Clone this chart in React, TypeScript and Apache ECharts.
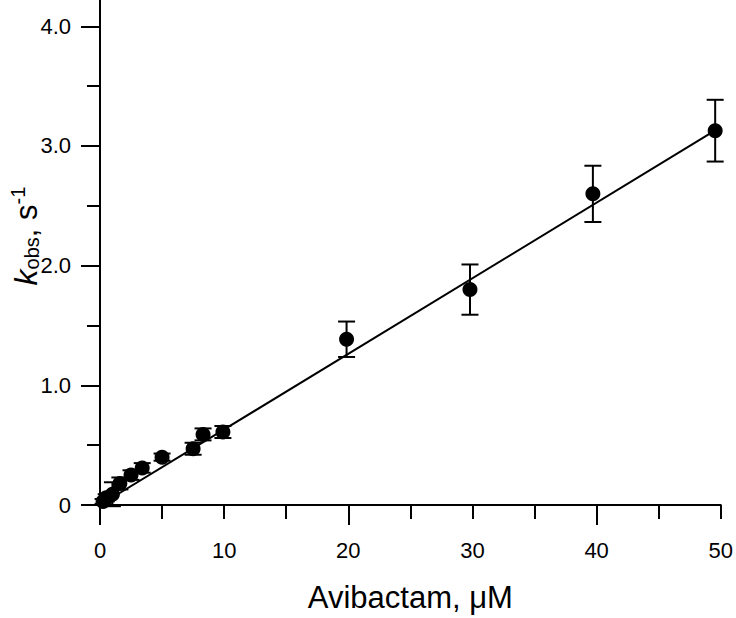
import React, { useEffect, useRef } from "react";
import * as echarts from "echarts";

// Avibactam concentration (µM)
const conc = [0.25, 0.5, 1.0, 1.6, 2.5, 3.4, 5.0, 7.5, 8.3, 9.9, 19.86, 29.8, 39.7, 49.55];
// observed rate constant k_obs (s^-1)
const kobs = [0.03, 0.06, 0.09, 0.18, 0.25, 0.31, 0.40, 0.47, 0.59, 0.61, 1.385, 1.80, 2.60, 3.128];
// standard errors (s^-1)
const kerr = [0.02, 0.03, 0.10, 0.05, 0.04, 0.04, 0.03, 0.05, 0.05, 0.05, 0.148, 0.21, 0.235, 0.258];
// linear fit line end points
const fitX = [0, 49.55];
const fitY = [0, 3.13];

// tick positions
const xMinorTicks = [0, 5, 10, 15, 20, 25, 30, 35, 40, 45, 50];
const xLongTicks = [0, 20, 40];
const xLabels = [0, 10, 20, 30, 40, 50];
const yMajorTicks = [0, 1, 2, 3, 4];
const yMinorTicks = [0.5, 1.5, 2.5, 3.5];

const FONT = "Liberation Sans, Arial, sans-serif";

export default function App() {
  const ref = useRef<HTMLDivElement>(null);
  useEffect(() => {
    if (!ref.current) return;
    const chart = echarts.init(ref.current, null, { renderer: "svg" });
    const black = "#000";
    const errData = conc.map((x, i) => [x, kobs[i], kerr[i]]);
    const yMax = 4.22;
    chart.setOption({
      animation: false,
      backgroundColor: "#fff",
      grid: { left: 100, right: 15, top: 0, bottom: 110, containLabel: false },
      xAxis: [
        {
          type: "value",
          min: 0,
          max: 50,
          interval: 10,
          axisLine: { show: true, lineStyle: { color: black, width: 2 } },
          axisTick: { show: true, length: 14, customValues: xMinorTicks, lineStyle: { color: black, width: 2 } },
          splitLine: { show: false },
          axisLabel: { color: black, fontSize: 22, fontFamily: FONT, margin: 34, customValues: xLabels },
          name: "Avibactam, μM",
          nameLocation: "middle",
          nameGap: 77,
          nameTextStyle: { color: black, fontSize: 31, fontFamily: FONT },
        },
        {
          type: "value",
          min: 0,
          max: 50,
          position: "bottom",
          axisLine: { show: false },
          axisTick: { show: true, length: 20, customValues: xLongTicks, lineStyle: { color: black, width: 2 } },
          axisLabel: { show: false },
          splitLine: { show: false },
        },
      ],
      yAxis: [
        {
          type: "value",
          min: 0,
          max: yMax,
          axisLine: { show: true, lineStyle: { color: black, width: 2 } },
          axisTick: { show: true, length: 19, customValues: yMajorTicks, lineStyle: { color: black, width: 2 } },
          splitLine: { show: false },
          axisLabel: {
            color: black,
            fontSize: 22,
            fontFamily: FONT,
            margin: 29,
            customValues: yMajorTicks,
            formatter: (v: number) => (v === 0 ? "0" : v.toFixed(1)),
          },
        },
        {
          type: "value",
          min: 0,
          max: yMax,
          position: "left",
          axisLine: { show: false },
          axisTick: { show: true, length: 13, customValues: yMinorTicks, lineStyle: { color: black, width: 2 } },
          axisLabel: { show: false },
          splitLine: { show: false },
        },
      ],
      graphic: [
        {
          type: "text",
          x: 25,
          y: 236,
          rotation: Math.PI / 2,
          style: {
            text: "{k|k}{sub|obs}{n|, s}{sup|-1}",
            align: "center",
            verticalAlign: "middle",
            fill: black,
            rich: {
              k: { fontSize: 32, fontStyle: "italic", fontFamily: FONT, lineHeight: 34, verticalAlign: "bottom" },
              sub: { fontSize: 20, fontFamily: FONT, lineHeight: 20, verticalAlign: "bottom" },
              n: { fontSize: 31, fontFamily: FONT, lineHeight: 34, verticalAlign: "bottom" },
              sup: { fontSize: 20, fontFamily: FONT, lineHeight: 20, verticalAlign: "top" },
            },
          },
        },
      ],
      series: [
        {
          type: "line",
          data: fitX.map((x, i) => [x, fitY[i]]),
          symbol: "none",
          lineStyle: { color: black, width: 2 },
          z: 2,
        },
        {
          type: "custom",
          data: errData,
          clip: false,
          z: 3,
          renderItem: (params: any, api: any) => {
            const x = api.value(0);
            const y = api.value(1);
            const e = api.value(2);
            const top = api.coord([x, y + e]);
            const bot = api.coord([x, y - e]);
            const hw = 8.5;
            const st = { stroke: black, lineWidth: 2 };
            return {
              type: "group",
              children: [
                { type: "line", shape: { x1: top[0], y1: top[1], x2: bot[0], y2: bot[1] }, style: st },
                { type: "line", shape: { x1: top[0] - hw, y1: top[1], x2: top[0] + hw, y2: top[1] }, style: st },
                { type: "line", shape: { x1: bot[0] - hw, y1: bot[1], x2: bot[0] + hw, y2: bot[1] }, style: st },
              ],
            };
          },
        },
        {
          type: "scatter",
          data: conc.map((x, i) => [x, kobs[i]]),
          symbol: "circle",
          symbolSize: 15,
          itemStyle: { color: black, opacity: 1 },
          clip: false,
          z: 4,
        },
      ],
    });
    return () => chart.dispose();
  }, []);
  return <div ref={ref} style={{ width: 736, height: 618, position: "absolute", left: 0, top: 0 }} />;
}
